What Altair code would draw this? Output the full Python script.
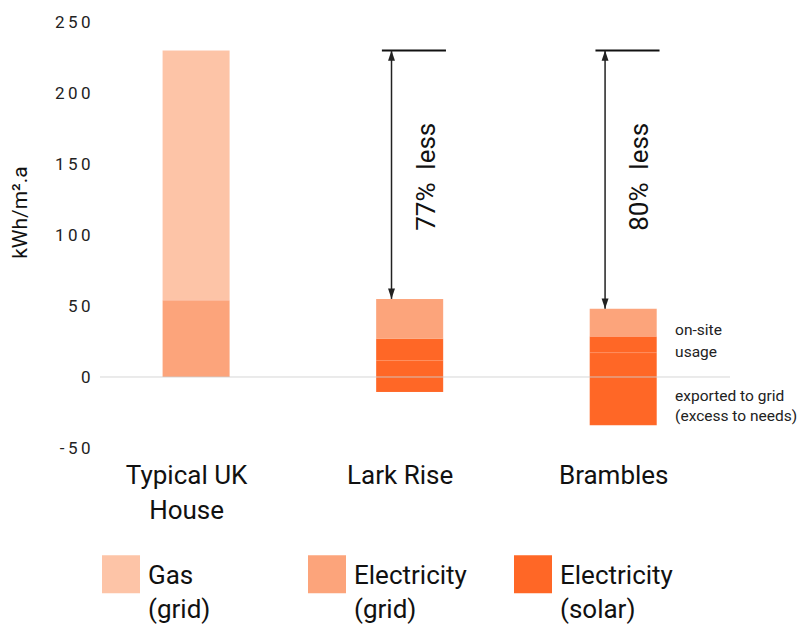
import altair as alt
import pandas as pd

# ---------------- data ----------------
site_names = ["Typical UK House", "Lark Rise", "Brambles"]
site_pos = [0, 1, 2]
site_label_lines = [["Typical UK", "House"], ["Lark Rise"], ["Brambles"]]

types = ["Gas (grid)", "Electricity (grid)", "Electricity (solar)"]
colors = ["#FDC4A7", "#FCA47B", "#FF6726"]

seg_site = [0, 0, 1, 1, 1, 1, 2, 2, 2, 2]
seg_type = ["Gas (grid)", "Electricity (grid)",
            "Electricity (grid)", "Electricity (solar)", "Electricity (solar)", "Electricity (solar)",
            "Electricity (grid)", "Electricity (solar)", "Electricity (solar)", "Electricity (solar)"]
seg_start = [54, 0, 27, 11.5, 0, -10.5, 28.5, 17, 0, -34]
seg_end = [230, 54, 55, 27, 11.5, 0, 48, 28.5, 17, 0]

ref_level = 230
arrow_site = [1, 2]
arrow_bottom = [55, 48]
arrow_text = ["77%\u00a0\u00a0less", "80%\u00a0\u00a0less"]
arrow_text_y = [141, 141]

note_site = [2, 2, 2, 2]
note_text = ["on-site", "usage", "exported to grid", "(excess to needs)"]
note_y = [33, 17.5, -13.5, -27.5]

y_ticks = [-50, 0, 50, 100, 150, 200, 250]

# ---------------- tables ----------------
bars = pd.DataFrame({"pos": seg_site, "type": seg_type, "y0": seg_start, "y1": seg_end})
arrows = pd.DataFrame({"pos": arrow_site, "bottom": arrow_bottom, "top": [ref_level] * len(arrow_site),
                       "label": arrow_text, "ly": arrow_text_y})
notes = pd.DataFrame({"pos": note_site, "text": note_text, "y": note_y})
zero = pd.DataFrame({"y": [0]})

FONT = "Roboto"
LABEL_DY = -11.5
xs = alt.Scale(domain=[-0.45, 2.5], nice=False, zero=False)
ys = alt.Scale(domain=[-50, 250], nice=False, zero=False)

label_map = " : ".join(
    f"datum.value == {p} ? [{', '.join(repr(s) for s in lines)}]" for p, lines in zip(site_pos[:-1], site_label_lines[:-1])
) + f" : [{', '.join(repr(s) for s in site_label_lines[-1])}]"

x_axis = alt.Axis(values=site_pos, labelExpr=label_map, title=None, grid=False, ticks=False, domain=False,
                  labelFont=FONT, labelFontSize=26, labelColor="#111", labelBaseline="top",
                  labelPadding=26, labelLineHeight=35, labelOffset=-10, labelFlush=False)
y_axis = alt.Axis(values=y_ticks, title="kWh/m\u00b2.a", grid=False, ticks=False, domain=False,
                  labelExpr="join(split(replace(datum.label, '\u2212', '-'), ''), '\u2009')",
                  labelFont=FONT, labelFontSize=17, labelColor="#222", labelPadding=10,
                  labelOffset=-LABEL_DY,
                  titleFont=FONT, titleFontSize=21, titleFontWeight="normal", titleColor="#111",
                  titleX=-80, titleY=190, titleAlign="center", titleBaseline="middle", titleAngle=270)

legend = alt.Legend(title=None, orient="none", legendX=2, legendY=533, direction="horizontal",
                    symbolType="square", symbolSize=1444, symbolStrokeWidth=0, symbolOpacity=1,
                    labelFont=FONT, labelFontSize=26, labelColor="#111", labelLimit=0,
                    labelExpr="split(datum.label, ' ')", labelOffset=8, labelBaseline="top",
                    columnPadding=47, gridAlign="all", padding=0)

bar_layer = alt.Chart(bars).transform_calculate(
    x0="datum.pos - 0.157", x1="datum.pos + 0.157"
).mark_bar(stroke="white", strokeWidth=0.6, strokeOpacity=0.12).encode(
    x=alt.X("x0:Q", scale=xs, axis=x_axis),
    x2="x1:Q",
    y=alt.Y("y0:Q", scale=ys, axis=y_axis),
    y2="y1:Q",
    color=alt.Color("type:N", scale=alt.Scale(domain=types, range=colors), legend=legend),
)

zero_layer = alt.Chart(zero).mark_rule(color="#cccccc", strokeWidth=1, opacity=0.8).encode(
    y=alt.Y("y:Q", scale=ys)
)

ref_lines = alt.Chart(arrows).transform_calculate(
    a="datum.pos - 0.13", b="datum.pos + 0.17"
).mark_rule(color="#111", strokeWidth=2).encode(
    x=alt.X("a:Q", scale=xs), x2="b:Q", y=alt.Y("top:Q", scale=ys)
)

shaft = alt.Chart(arrows).transform_calculate(
    ax="datum.pos - 0.085"
).mark_rule(color="#222", strokeWidth=1.5).encode(
    x=alt.X("ax:Q", scale=xs), y=alt.Y("top:Q", scale=ys), y2="bottom:Q"
)

head_up = alt.Chart(arrows).transform_calculate(
    ax="datum.pos - 0.085"
).mark_point(shape="M0,0 L-0.4,1.2 L0.4,1.2 Z", size=300, filled=True, fill="#222",
             fillOpacity=1, strokeWidth=0).encode(
    x=alt.X("ax:Q", scale=xs), y=alt.Y("top:Q", scale=ys)
)
head_down = alt.Chart(arrows).transform_calculate(
    ax="datum.pos - 0.085"
).mark_point(shape="M0,0 L-0.4,-1.2 L0.4,-1.2 Z", size=300, filled=True, fill="#222",
             fillOpacity=1, strokeWidth=0).encode(
    x=alt.X("ax:Q", scale=xs), y=alt.Y("bottom:Q", scale=ys)
)

pct_text = alt.Chart(arrows).transform_calculate(
    tx="datum.pos + 0.08"
).mark_text(angle=270, align="center", baseline="middle", font=FONT, fontSize=26, color="#111").encode(
    x=alt.X("tx:Q", scale=xs), y=alt.Y("ly:Q", scale=ys), text="label:N"
)

note_layer = alt.Chart(notes).transform_calculate(
    tx="datum.pos + 0.243"
).mark_text(align="left", baseline="middle", font=FONT, fontSize=15.5, color="#222").encode(
    x=alt.X("tx:Q", scale=xs), y=alt.Y("y:Q", scale=ys), text="text:N"
)

chart = alt.layer(
    bar_layer, zero_layer, ref_lines, shaft, head_up, head_down, pct_text, note_layer
).properties(
    width=630, height=426,
    autosize=alt.AutoSizeParams(type="none"),
    padding={"left": 100, "top": 22, "right": 69, "bottom": 178},
    background="white",
).configure(
    style={"guide-label": {"lineHeight": 34, "dy": LABEL_DY}},
    view=alt.ViewConfig(stroke=None),
)

chart.save("out.html", embed_options={"renderer": "svg", "actions": False})
